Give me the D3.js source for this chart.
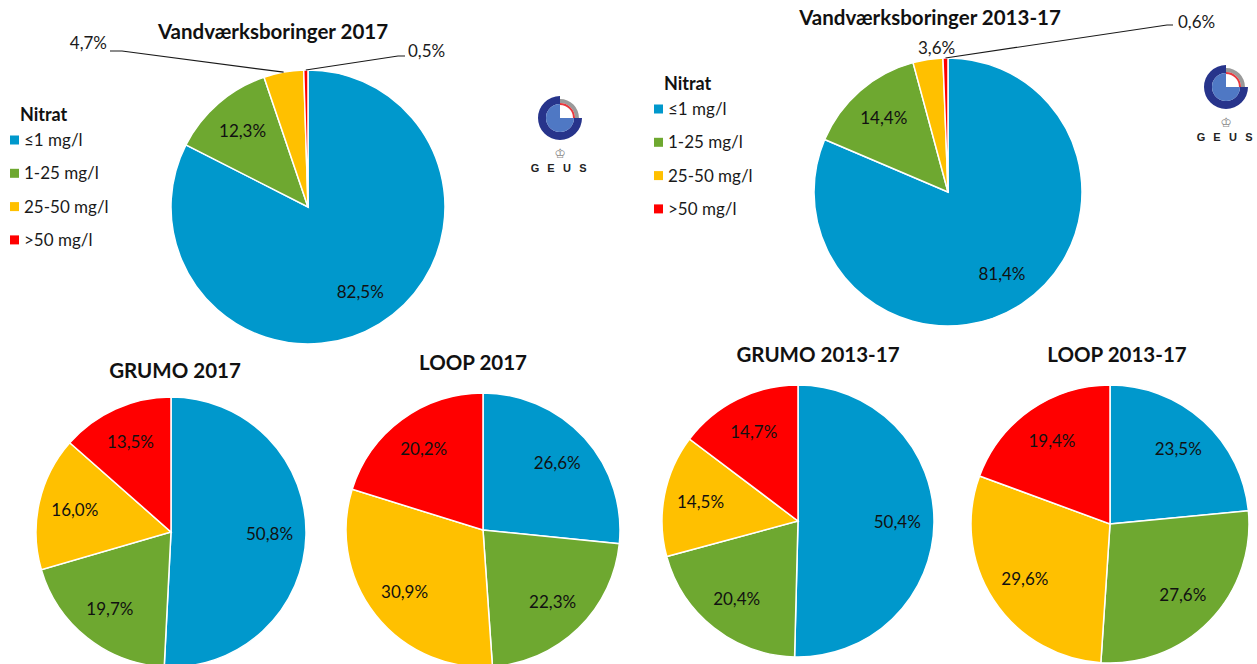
<!DOCTYPE html>
<html>
<head>
<meta charset="utf-8">
<script src="https://cdn.jsdelivr.net/npm/d3@7"></script>
<style>
  body { margin: 0; background: #fff; }
  svg text { font-family: Lato, "Open Sans", sans-serif; }
</style>
</head>
<body>
<div id="chart"></div>
<script>
// data (percent)
var categories = ["≤1 mg/l", "1-25 mg/l", "25-50 mg/l", ">50 mg/l"];
var colors = ["#0098CC", "#6EA830", "#FFC000", "#FF0000"];

var vand2017 = [82.5, 12.3, 4.7, 0.5];
var vand1317 = [81.4, 14.4, 3.6, 0.6];
var grumo2017 = [50.8, 19.7, 16.0, 13.5];
var loop2017 = [26.6, 22.3, 30.9, 20.2];
var grumo1317 = [50.4, 20.4, 14.5, 14.7];
var loop1317 = [23.5, 27.6, 29.6, 19.4];

var titles = ["Vandværksboringer 2017", "Vandværksboringer 2013-17", "GRUMO 2017",
  "LOOP 2017", "GRUMO 2013-17", "LOOP 2013-17"];

var width = 1257, height = 664;

var svg = d3.select("#chart")
  .append("svg")
    .attr("width", width)
    .attr("height", height);

// where each pie sits
var layout = [
  {values: vand2017, cx: 308, cy: 207, r: 137, tx: 273, ty: 39,
   outside: {2: {ex: -186, ey: -156, tail: -12, lx: -201, ly: -158},
             3: {ex: 90, ey: -151, tail: 7, lx: 100, ly: -150}}},
  {values: vand1317, cx: 948, cy: 192, r: 134, tx: 930, ty: 25,
   outside: {2: {lx: -30, ly: -138, plain: true},
             3: {ex: 219, ey: -167, tail: 6, lx: 230, ly: -164}}},
  {values: grumo2017, cx: 171, cy: 532, r: 135, tx: 175, ty: 378},
  {values: loop2017, cx: 483, cy: 530, r: 137, tx: 473, ty: 370},
  {values: grumo1317, cx: 798, cy: 521, r: 136, tx: 818, ty: 362},
  {values: loop1317, cx: 1110, cy: 524, r: 139, tx: 1117, ty: 362}
];

var pie = d3.pie().sort(null).value(function(d) { return d; });
var fmt = function(v) { return d3.format(".1f")(v).replace(".", ",") + "%"; };

layout.forEach(function(p, i) {
  var g = svg.append("g")
    .attr("transform", "translate(" + p.cx + "," + p.cy + ")");

  var arc = d3.arc().innerRadius(0).outerRadius(p.r);
  var labelArc = d3.arc().innerRadius(p.r * 0.73).outerRadius(p.r * 0.73);
  var edgeArc = d3.arc().innerRadius(p.r).outerRadius(p.r);
  var slices = pie(p.values);

  g.selectAll("path.slice")
    .data(slices)
    .enter()
    .append("path")
      .attr("class", "slice")
      .attr("d", arc)
      .attr("fill", function(d, j) { return colors[j]; })
      .attr("stroke", "#fff")
      .attr("stroke-width", 1.5);

  var out = p.outside || {};

  // inside labels
  g.selectAll("text.lbl")
    .data(slices.filter(function(d, j) { return !out[j]; }))
    .enter()
    .append("text")
      .attr("class", "lbl")
      .attr("transform", function(d) { return "translate(" + labelArc.centroid(d) + ")"; })
      .attr("text-anchor", "middle")
      .attr("dy", "0.35em")
      .style("font-size", "17px")
      .attr("fill", "#111")
      .text(function(d) { return fmt(d.data); });

  // outside labels with leader lines
  slices.forEach(function(d, j) {
    var o = out[j];
    if (!o) return;
    if (!o.plain) {
      var s = edgeArc.centroid(d);
      g.append("polyline")
        .attr("points", [s, [o.ex, o.ey], [o.ex + o.tail, o.ey]].map(function(q) { return q.join(","); }).join(" "))
        .attr("fill", "none")
        .attr("stroke", "#1a1a1a")
        .attr("stroke-width", 1.2);
    }
    g.append("text")
      .attr("x", o.lx)
      .attr("y", o.ly)
      .attr("text-anchor", o.plain ? "start" : (o.tail < 0 ? "end" : "start"))
      .style("font-size", "17px")
      .attr("fill", "#1a1a1a")
      .text(fmt(d.data));
  });

  svg.append("text")
    .attr("x", p.tx)
    .attr("y", p.ty)
    .attr("text-anchor", "middle")
    .style("font-size", "20.5px")
    .style("font-weight", "bold")
    .attr("fill", "#111")
    .text(titles[i]);
});

// legends
function legend(x, y) {
  var lg = svg.append("g").attr("transform", "translate(" + x + "," + y + ")");
  lg.append("text")
    .attr("x", 10)
    .attr("y", 6)
    .style("font-size", "18px")
    .style("font-weight", "bold")
    .attr("fill", "#111")
    .text("Nitrat");
  var item = lg.selectAll("g.item")
    .data(categories)
    .enter()
    .append("g")
      .attr("transform", function(d, j) { return "translate(0," + (25 + j * 33.3) + ")"; });
  item.append("rect")
    .attr("x", 0).attr("y", -4.5)
    .attr("width", 9).attr("height", 9)
    .attr("fill", function(d, j) { return colors[j]; });
  item.append("text")
    .attr("x", 14)
    .attr("dy", "0.35em")
    .style("font-size", "17px")
    .attr("fill", "#1a1a1a")
    .text(function(d) { return d; });
}
legend(10, 115);
legend(654, 84);

// GEUS logo
function logo(cx, cy) {
  var lg = svg.append("g").attr("transform", "translate(" + cx + "," + cy + ")");
  lg.append("path")
    .attr("d", d3.arc()({innerRadius: 14, outerRadius: 22, startAngle: Math.PI / 2, endAngle: 2 * Math.PI}))
    .attr("fill", "#27348B");
  lg.append("path")
    .attr("d", d3.arc()({innerRadius: 0, outerRadius: 14, startAngle: Math.PI / 2, endAngle: 2 * Math.PI}))
    .attr("fill", "#4F78C4");
  lg.append("path")
    .attr("d", d3.arc()({innerRadius: 15, outerRadius: 19, startAngle: 0, endAngle: Math.PI / 2}))
    .attr("fill", "#9a9a9a");
  lg.append("path")
    .attr("d", d3.arc()({innerRadius: 13, outerRadius: 15, startAngle: 0, endAngle: Math.PI / 2}))
    .attr("fill", "#E8383D");
  lg.append("text")
    .attr("x", 0).attr("y", 40)
    .attr("text-anchor", "middle")
    .style("font-family", "DejaVu Sans")
    .style("font-size", "13px")
    .attr("fill", "#888")
    .text("♔");
  // letters placed one by one so the spacing does not spill past the edge
  lg.selectAll("text.geus")
    .data(["G", "E", "U", "S"])
    .enter()
    .append("text")
      .attr("class", "geus")
      .attr("x", function(d, j) { return -25 + j * 16; })
      .attr("y", 54)
      .attr("text-anchor", "middle")
      .style("font-family", "Liberation Sans, sans-serif")
      .style("font-size", "11px")
      .style("font-weight", "bold")
      .attr("fill", "#222")
      .text(function(d) { return d; });
}
logo(560, 118);
logo(1226, 87);
</script>
</body>
</html>
